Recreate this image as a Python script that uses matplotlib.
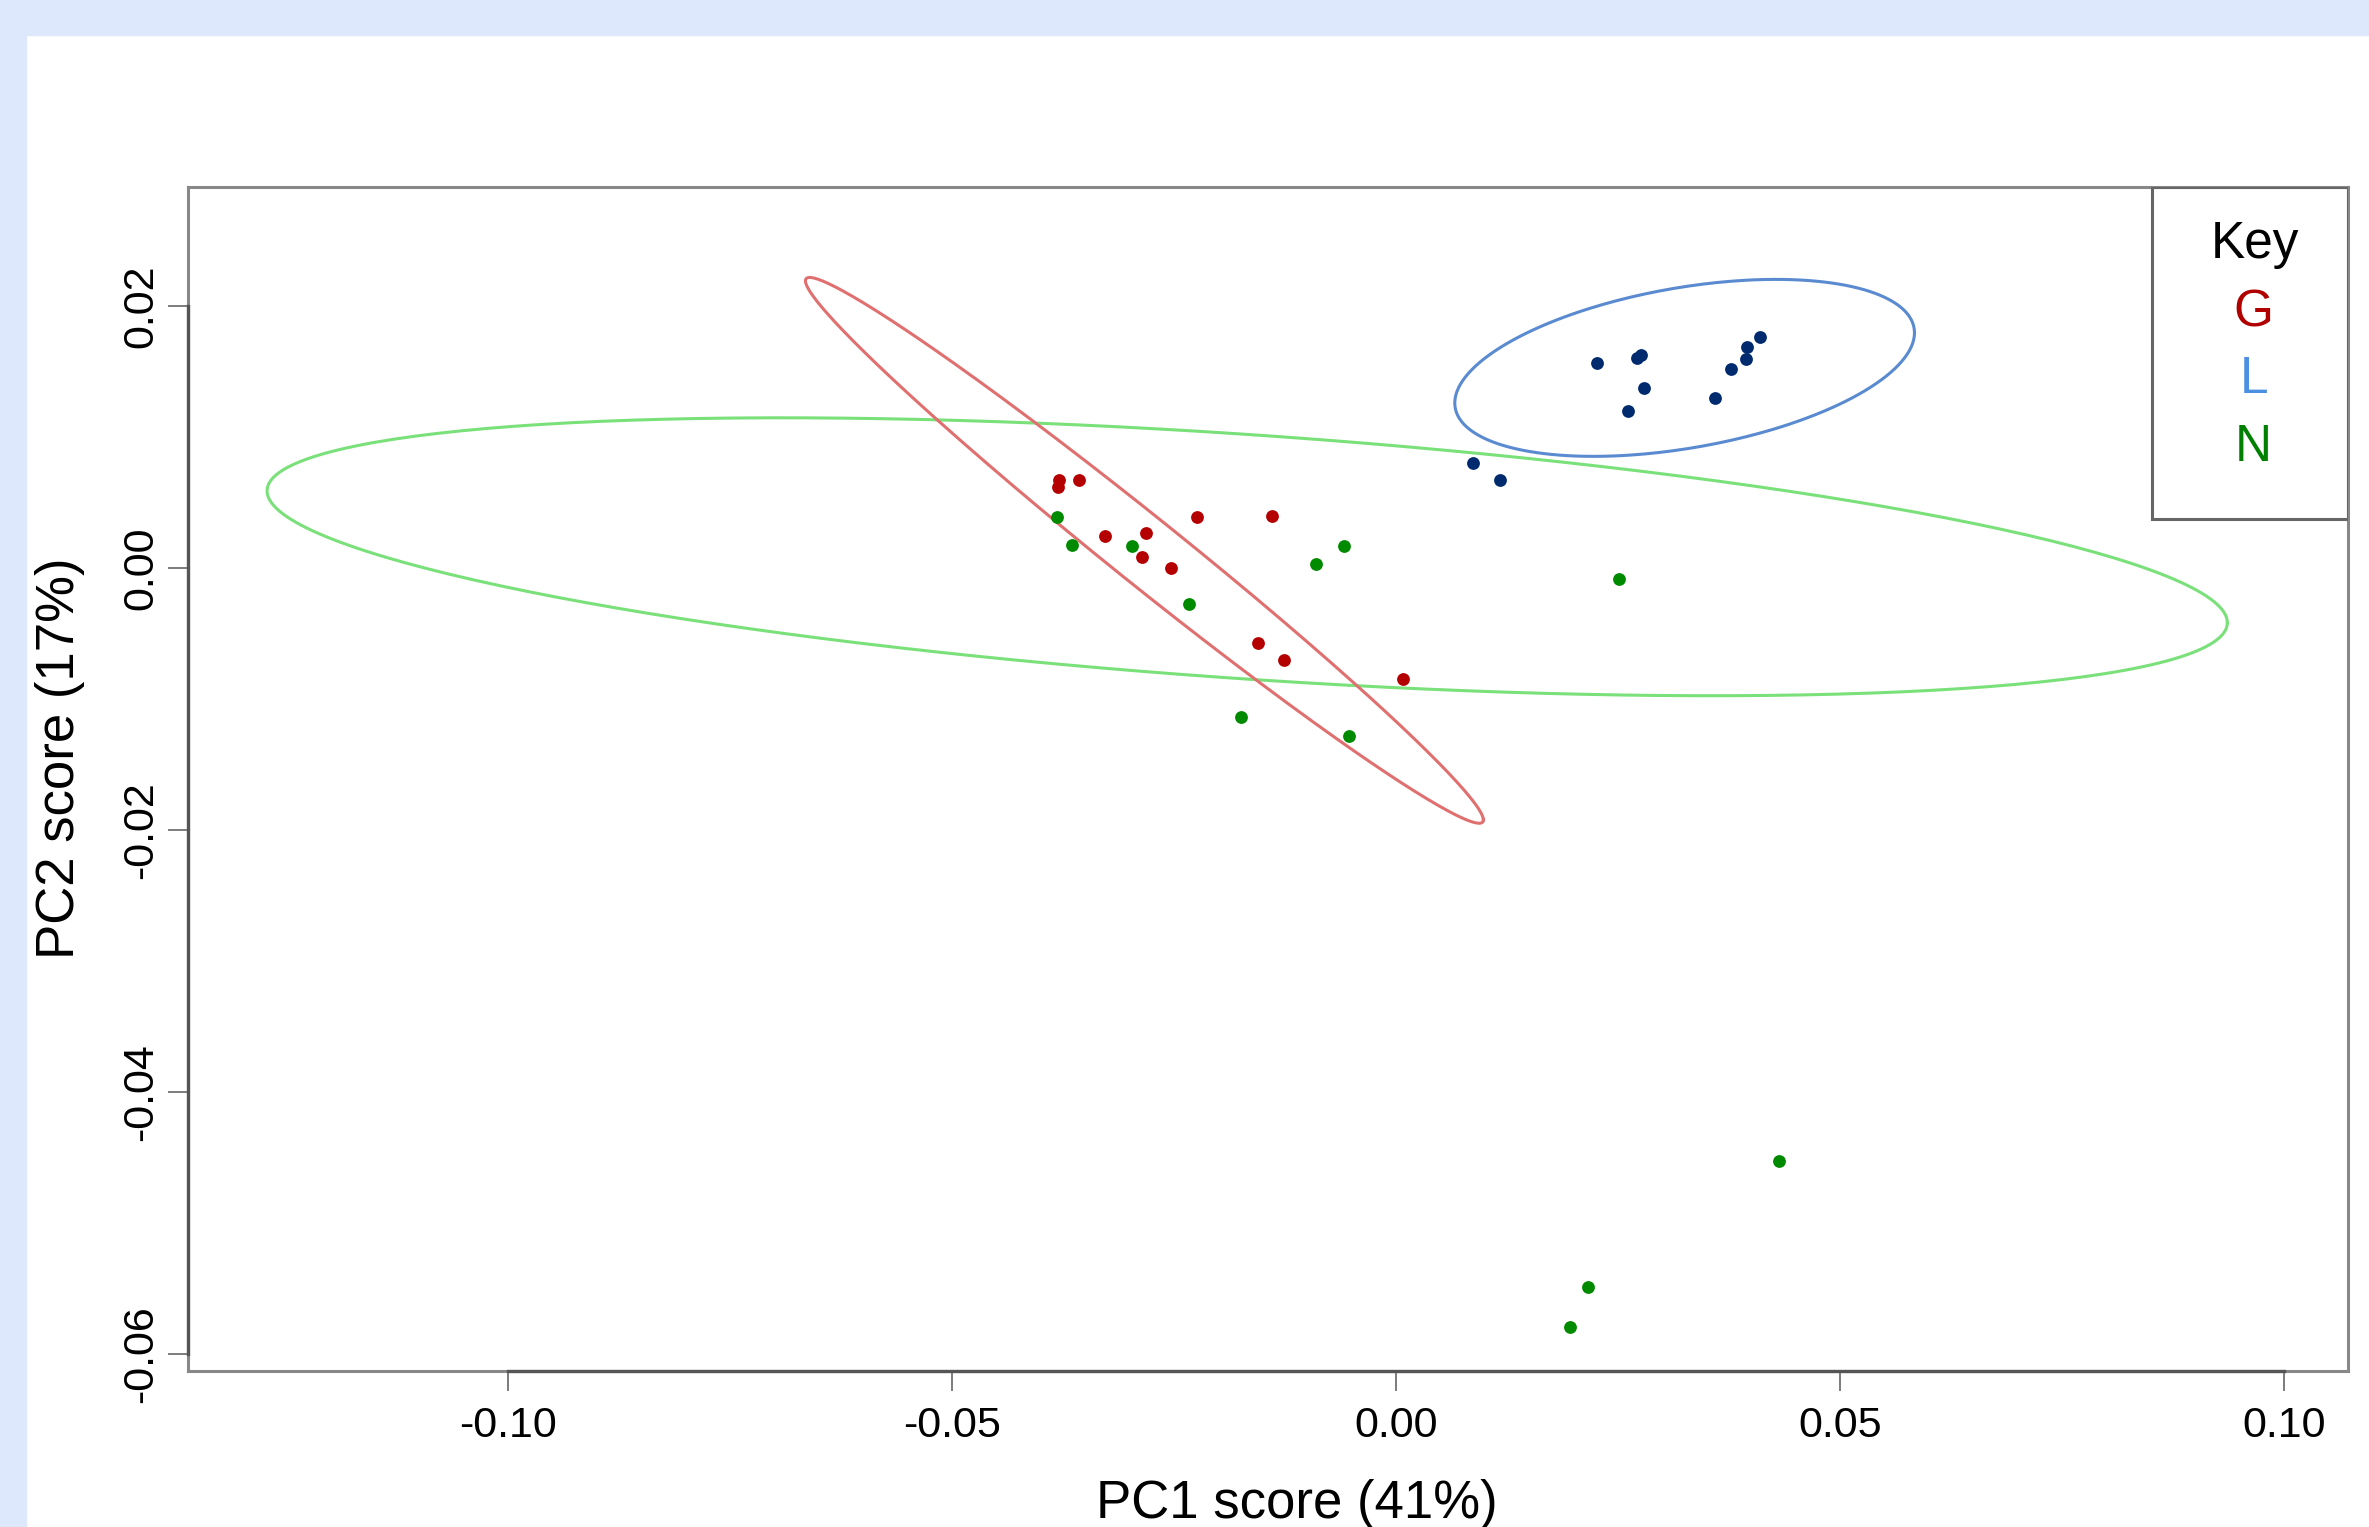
import numpy as np
import matplotlib
matplotlib.use("Agg")
from matplotlib import pyplot as plt
from matplotlib.patches import Rectangle

plt.rcParams['font.family'] = ['Liberation Sans', 'DejaVu Sans']

# PC scores
g_x = [-0.03803, -0.03814, -0.03573, -0.03277, -0.02815, -0.02864, -0.02537, -0.02249, -0.01404, -0.01562, -0.01269, 0.00082]
g_y = [0.00677, 0.00620, 0.00671, 0.00246, 0.00272, 0.00086, 0.00005, 0.00395, 0.00397, -0.00567, -0.00697, -0.00847]
l_x = [0.02267, 0.02717, 0.02756, 0.02789, 0.02613, 0.04096, 0.03949, 0.03938, 0.03769, 0.03589, 0.00864, 0.01175]
l_y = [0.01570, 0.01605, 0.01631, 0.01374, 0.01203, 0.01765, 0.01686, 0.01595, 0.01524, 0.01303, 0.00801, 0.00677]
n_x = [-0.03821, -0.03652, -0.02981, -0.02331, -0.00898, -0.00593, -0.01749, -0.00526, 0.02508, 0.04316, 0.02166, 0.01963]
n_y = [0.00391, 0.00181, 0.00170, -0.00269, 0.00033, 0.00170, -0.01139, -0.01280, -0.00079, -0.04525, -0.05484, -0.05792]

# ellipses: centre x, centre y, x half-extent, y shift at x extreme, other y part
g_ell = [-0.02836, 0.00137, 0.03818, -0.02057, 0.003296]
l_ell = [0.03249, 0.01530, 0.02589, 0.00268, 0.00620]
n_ell = [-0.01678, 0.00088, 0.11040, -0.00503, 0.00934]

x_ticks = [-0.10, -0.05, 0.00, 0.05, 0.10]
y_ticks = [-0.06, -0.04, -0.02, 0.00, 0.02]
groups = ['G', 'L', 'N']

fig = plt.figure(figsize=(23.69, 15.27), dpi=100)
fig.patches.append(Rectangle((0, 0.9770), 1, 0.0230, transform=fig.transFigure, color='#dde8fd', zorder=0))
fig.patches.append(Rectangle((0, 0), 0.011, 1, transform=fig.transFigure, color='#dde8fd', zorder=0))

ax = fig.add_axes([0.0793, 0.1024, 0.9118, 0.7749])
ax.set_xlim(-0.1361, 0.1072)
ax.set_ylim(-0.06125, 0.02908)

t = np.linspace(0, 2 * np.pi, 300)
for e, c in [(n_ell, '#7ae07a'), (g_ell, '#e07070'), (l_ell, '#5a8ad0')]:
    ax.plot(e[0] + e[2] * np.cos(t), e[1] + e[3] * np.cos(t) + e[4] * np.sin(t), color=c, lw=2.2, zorder=2)

ax.scatter(g_x, g_y, s=85, color='#b40000', zorder=3, linewidths=0)
ax.scatter(l_x, l_y, s=85, color='#002a6e', zorder=3, linewidths=0)
ax.scatter(n_x, n_y, s=85, color='#008a00', zorder=3, linewidths=0)

ax.set_xticks(x_ticks)
ax.set_xticklabels(['%.2f' % v for v in x_ticks])
ax.set_yticks(y_ticks)
ax.set_yticklabels(['%.2f' % v for v in y_ticks])
ax.tick_params(direction='out', length=14.4, width=1.2, color='#666666', labelsize=31)
ax.tick_params(axis='x', pad=11)
ax.tick_params(axis='y', pad=5)
for lbl in ax.get_yticklabels():
    lbl.set_rotation(90)
    lbl.set_va('center')
for s in ax.spines.values():
    s.set_color('#888888')
    s.set_linewidth(2.2)

# R style axis lines between first and last tick
ax.plot([x_ticks[0], x_ticks[-1]], [-0.06125, -0.06125], color='#555555', lw=2.4, clip_on=False, zorder=4)
ax.plot([-0.1361, -0.1361], [y_ticks[0], y_ticks[-1]], color='#555555', lw=2.4, clip_on=False, zorder=4)

# key box
ax.add_patch(Rectangle((0.9093, 0.7197), 0.0907, 0.2803, transform=ax.transAxes, fill=False, edgecolor='#666666', lw=2.2, zorder=5))
fig.text(0.9519, 0.8400, 'Key', fontsize=37, color='black', ha='center', va='center')
for name, c, yy in zip(groups, ['#b00000', '#4a90e2', '#008000'], [0.7953, 0.7514, 0.7069]):
    fig.text(0.9513, yy, name, fontsize=37, color=c, ha='center', va='center')

fig.text(0.5473, 0.0150, 'PC1 score (41%)', fontsize=38, ha='center', va='center')
fig.text(0.0255, 0.5033, 'PC2 score (17%)', fontsize=38, ha='center', va='center', rotation=90)

plt.savefig('out.png', dpi=100)
